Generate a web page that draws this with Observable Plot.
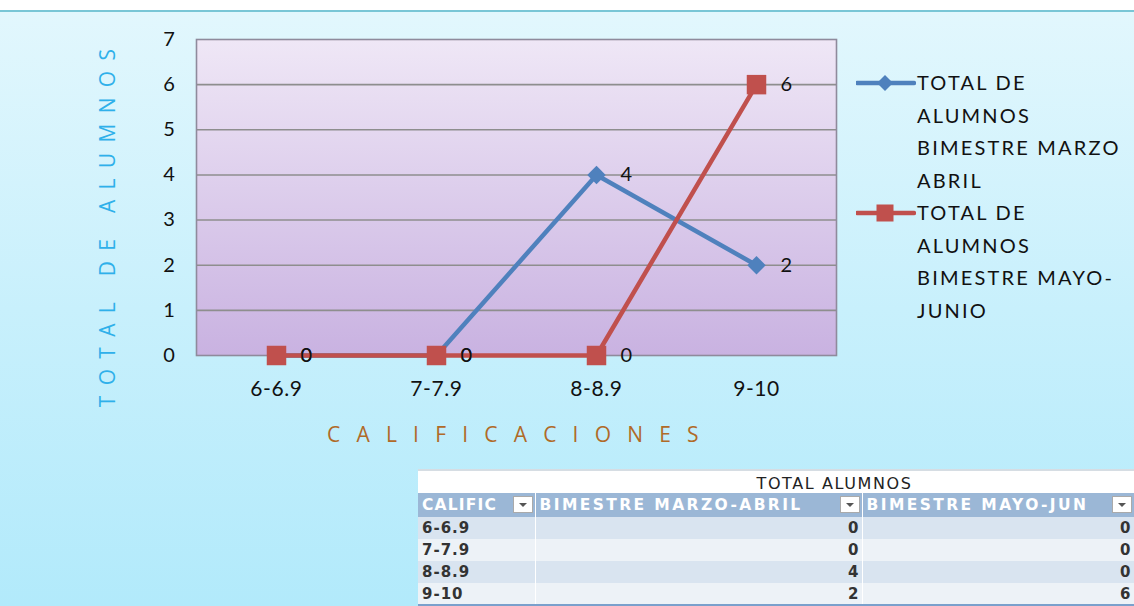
<!DOCTYPE html>
<html>
<head>
<meta charset="utf-8">
<script src="https://cdn.jsdelivr.net/npm/d3@7"></script>
<script src="https://cdn.jsdelivr.net/npm/@observablehq/plot@0.6"></script>
<style>
  html, body { margin: 0; padding: 0; }
  body { width: 1134px; height: 606px; overflow: hidden; position: relative; background: #fff; font-family: Lato, "Open Sans", sans-serif; }
  #bg { position: absolute; left: 0; top: 10px; width: 1134px; height: 596px;
        background: linear-gradient(to bottom, #e2f7fd 0%, #c8f0fc 50%, #b2eafb 100%);
        border-top: 2px solid #79c6d6; box-sizing: border-box; }
  #chart { position: absolute; left: 0; top: 0; }
  .ytitle { position: absolute; left: 107px; top: 223px; transform: translate(-50%, -50%) rotate(-90deg);
            white-space: nowrap; color: #2fb0ea; font-size: 21px; letter-spacing: 10.3px; font-family: "Open Sans", sans-serif; }
  .xtitle { position: absolute; left: 327px; top: 420px; white-space: nowrap; color: #b06a28;
            font-size: 21px; letter-spacing: 16.2px; font-family: "Open Sans", sans-serif; }
  #legend { position: absolute; left: 856px; top: 66px; font-family: Lato, sans-serif; font-size: 20px; color: #111; letter-spacing: 2.2px; }
  .lg { position: relative; padding-left: 61px; line-height: 32.5px; width: 270px; }
  .lg svg { position: absolute; left: 0; top: 6px; }
  #tbl { position: absolute; left: 418px; top: 469px; width: 716px; border-collapse: collapse; table-layout: fixed;
         font-family: "DejaVu Sans", sans-serif; font-size: 14px; color: #333; }
  #tbl td, #tbl th { padding: 0 4px; box-sizing: border-box; white-space: nowrap; }
  #tbl .title { background: #fff; text-align: center; font-weight: normal; height: 23px; color: #222; font-size: 16px;
                letter-spacing: 1.6px; border-top: 2px solid #d6dde3; padding-top: 2px; }
  #tbl .hdr th { background: #9bb7d6; color: #fff; font-weight: bold; text-align: left; border-right: 1px solid #fff;
                 height: 24px; letter-spacing: 2.4px; font-size: 15.5px; position: relative; padding: 0 0 0 4px; }
  #tbl .hdr th:first-child { letter-spacing: 1.2px; }
  .dd { position: absolute; right: 2px; top: 3px; width: 20px; height: 17px; background: #fff; border: 1px solid #aaa; box-sizing: border-box; }
  .dd::after { content: ""; position: absolute; left: 5px; top: 6px; border-left: 4px solid transparent; border-right: 4px solid transparent; border-top: 4px solid #555; }
  #tbl tr.odd td { background: #d9e4f0; }
  #tbl tr.even td { background: #edf2f7; }
  #tbl td { border-right: 1px solid #fff; height: 22px; font-weight: bold; letter-spacing: 1px; font-size: 15px; }
  #tbl td.num { text-align: right; padding-right: 2px; }
  #tbl tr.last td { border-bottom: 2px solid #7aa0cc; }
</style>
</head>
<body>
<div id="bg"></div>
<div id="chart"></div>
<div class="ytitle">TOTAL DE ALUMNOS</div>
<div class="xtitle">CALIFICACIONES</div>
<div id="legend"></div>
<table id="tbl"></table>
<script>
// ---- data ----
const categories = ["6-6.9", "7-7.9", "8-8.9", "9-10"];
const marzoAbril = [0, 0, 4, 2];
const mayoJunio = [0, 0, 0, 6];
const seriesNames = ["TOTAL DE ALUMNOS BIMESTRE MARZO ABRIL", "TOTAL DE ALUMNOS BIMESTRE MAYO-JUNIO"];
const yTicks = [0, 1, 2, 3, 4, 5, 6, 7];
const gridValues = [1, 2, 3, 4, 5, 6];
const tableTitle = "TOTAL ALUMNOS";
const tableHeaders = ["CALIFIC", "BIMESTRE MARZO-ABRIL", "BIMESTRE MAYO-JUN"];
const colWidths = [117, 327, 272];

const blue = "#4f81bd", red = "#c0504d";
const dataA = categories.map((c, i) => ({cat: c, v: marzoAbril[i]}));
const dataB = categories.map((c, i) => ({cat: c, v: mayoJunio[i]}));

const defs = () => {
  const d = d3.create("svg:defs");
  const g = d.append("linearGradient").attr("id", "plotbg").attr("x1", 0).attr("y1", 0).attr("x2", 0).attr("y2", 1);
  g.append("stop").attr("offset", "0%").attr("stop-color", "#efe7f6");
  g.append("stop").attr("offset", "100%").attr("stop-color", "#c9b2e1");
  return d.node();
};

const plot = Plot.plot({
  width: 1134,
  height: 460,
  marginLeft: 196,
  marginRight: 298,
  marginTop: 39,
  marginBottom: 105,
  style: {background: "transparent", fontFamily: "Lato, sans-serif", color: "#111", letterSpacing: "0.6px"},
  x: {type: "point", domain: categories, padding: 0.5, label: null},
  y: {domain: [0, 7], label: null},
  marks: [
    defs,
    Plot.frame({fill: "url(#plotbg)", stroke: "none"}),
    Plot.ruleY(gridValues, {stroke: "#8e8e8e", strokeWidth: 1.6}),
    Plot.frame({stroke: "#8f8a9c", strokeWidth: 1.6}),
    Plot.axisY(yTicks, {tickSize: 0, tickPadding: 21, fontSize: 20, label: null}),
    Plot.axisX({tickSize: 0, tickPadding: 26, fontSize: 21, label: null}),
    Plot.line(dataA, {x: "cat", y: "v", stroke: blue, strokeWidth: 4.5}),
    Plot.dot(dataA, {x: "cat", y: "v", symbol: "diamond2", r: 8.3, fill: blue, stroke: "none"}),
    Plot.text(dataA, {x: "cat", y: "v", text: d => String(d.v), dx: 24, textAnchor: "start", fontSize: 20, fill: "#111"}),
    Plot.line(dataB, {x: "cat", y: "v", stroke: red, strokeWidth: 4.5}),
    Plot.dot(dataB, {x: "cat", y: "v", symbol: "square", r: 11, fill: red, stroke: "none"}),
    Plot.text(dataB, {x: "cat", y: "v", text: d => String(d.v), dx: 24, textAnchor: "start", fontSize: 20, fill: "#111"})
  ]
});
document.getElementById("chart").appendChild(plot);

// ---- legend ----
const legendLines = [
  ["TOTAL DE", "ALUMNOS", "BIMESTRE MARZO", "ABRIL"],
  ["TOTAL DE", "ALUMNOS", "BIMESTRE MAYO-", "JUNIO"]
];
const legend = document.getElementById("legend");
[[blue, "diamond"], [red, "square"]].forEach(([col, sym], i) => {
  const div = document.createElement("div");
  div.className = "lg";
  div.title = seriesNames[i];
  const marker = sym === "diamond"
    ? `<path d="M29 3 L37 11 L29 19 L21 11 Z" fill="${col}"/>`
    : `<rect x="20.5" y="2.5" width="17" height="17" fill="${col}"/>`;
  div.innerHTML = `<svg width="60" height="22"><line x1="1" x2="58" y1="11" y2="11" stroke="${col}" stroke-width="4.5" stroke-linecap="round"/>${marker}</svg>` +
    legendLines[i].join("<br>");
  legend.appendChild(div);
});

// ---- table ----
const tbl = document.getElementById("tbl");
let html = `<colgroup>${colWidths.map(w => `<col style="width:${w}px">`).join("")}</colgroup>`;
html += `<tr><th class="title"></th><th class="title" colspan="2">${tableTitle}</th></tr>`;
html += `<tr class="hdr">` + tableHeaders.map(h => `<th>${h}<span class="dd"></span></th>`).join("") + `</tr>`;
categories.forEach((c, i) => {
  html += `<tr class="${i % 2 ? "even" : "odd"}${i === categories.length - 1 ? " last" : ""}"><td>${c}</td><td class="num">${marzoAbril[i]}</td><td class="num">${mayoJunio[i]}</td></tr>`;
});
tbl.innerHTML = html;
</script>
</body>
</html>
